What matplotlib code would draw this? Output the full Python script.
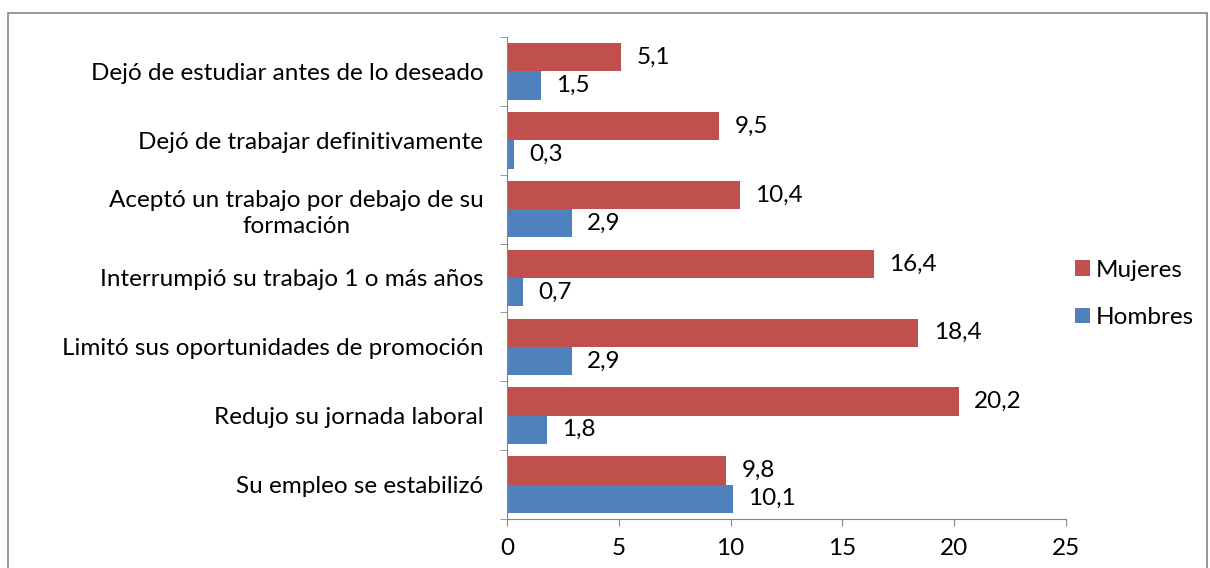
import matplotlib
matplotlib.use("Agg")
import matplotlib.pyplot as plt
from matplotlib.patches import Rectangle
import numpy as np

plt.rcParams['font.family'] = ['Lato', 'DejaVu Sans']

# datos
categorias = ["Dejó de estudiar antes de lo deseado",
              "Dejó de trabajar definitivamente",
              "Aceptó un trabajo por debajo de su\nformación",
              "Interrumpió su trabajo 1 o más años",
              "Limitó sus oportunidades de promoción",
              "Redujo su jornada laboral",
              "Su empleo se estabilizó"]
mujeres = [5.1, 9.5, 10.4, 16.4, 18.4, 20.2, 9.8]
hombres = [1.5, 0.3, 2.9, 0.7, 2.9, 1.8, 10.1]

rojo = "#C0504D"
azul = "#4F81BD"
fs = 17.5

fig = plt.figure(figsize=(12.1, 5.68), dpi=100)
ax = fig.add_axes([507/1210, 1-519/568, (1066-507)/1210, (519-37)/568])

y = np.arange(len(categorias))
h = 0.41
ax.barh(y - h/2, mujeres, height=h, color=rojo, label="Mujeres")
ax.barh(y + h/2, hombres, height=h, color=azul, label="Hombres")

for i in range(len(categorias)):
    ax.annotate(f"{mujeres[i]:.1f}".replace(".", ","), (mujeres[i], y[i] - h/2),
                xytext=(11, 0), textcoords="offset points", va="center", fontsize=fs)
    ax.annotate(f"{hombres[i]:.1f}".replace(".", ","), (hombres[i], y[i] + h/2),
                xytext=(11, 0), textcoords="offset points", va="center", fontsize=fs)

ax.set_ylim(len(categorias) - 0.5, -0.5)
ax.set_xlim(0, 25)
ax.set_xticks([0, 5, 10, 15, 20, 25])
ax.set_yticks(y)
ax.set_yticklabels(categorias, fontsize=fs, ha="right", multialignment="center",
                   linespacing=1.3)
ax.set_yticks(np.arange(-0.5, len(categorias)), minor=True)
ax.tick_params(axis="y", which="major", length=0, pad=17)
ax.tick_params(axis="y", which="minor", length=5, color="#868686")
ax.tick_params(axis="x", length=5, color="#868686", labelsize=fs, pad=9)

for s in ["top", "right"]:
    ax.spines[s].set_visible(False)
ax.spines["left"].set_color("#868686")
ax.spines["bottom"].set_color("#868686")

ax.legend(loc="center left", bbox_to_anchor=(0.995, 0.467), frameon=False,
          fontsize=fs, handlelength=0.6, handleheight=0.6, handletextpad=0.25,
          labelspacing=1.1, borderaxespad=0.1)

# marco
fig.patches.append(Rectangle((8/1210, -0.1), (1207-8)/1210, 1.1 - 13/568,
                             transform=fig.transFigure, fill=False,
                             edgecolor="#868686", linewidth=1.2))

plt.savefig("out.png", dpi=100)
